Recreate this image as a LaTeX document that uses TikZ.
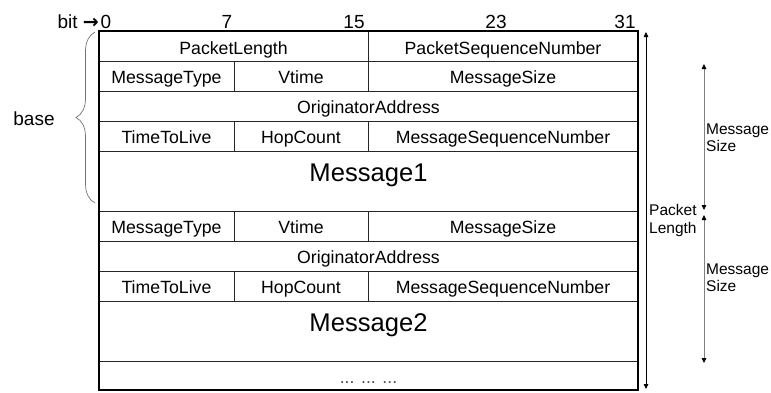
\documentclass[tikz,border=0pt]{standalone}
\usepackage{fontspec}
\setmainfont{Liberation Sans}
\newfontfamily\arrowfont{DejaVu Sans}
\usetikzlibrary{arrows.meta,decorations.pathreplacing}
\begin{document}
\begin{tikzpicture}[x=1pt,y=-1pt,
  cell/.style={anchor=base, inner sep=0pt, font=\fontsize{17.7}{20}\selectfont},
  big/.style={anchor=base, inner sep=0pt, font=\fontsize{25.6}{30}\selectfont},
  bitlbl/.style={anchor=base, inner sep=0pt, font=\fontsize{19}{22}\selectfont},
  side/.style={anchor=base west, inner sep=0pt, font=\fontsize{15.5}{18}\selectfont},
  gridline/.style={draw=black!85, line width=0.8pt},
  frame/.style={draw=black, line width=2pt},
  tip/.tip={Triangle[width=4.5pt,length=5pt,color=black]},
  dimarrow/.style={{tip}-{tip}, line width=0.8pt}]
\useasboundingbox (0,0) rectangle (771,392);

% horizontal grid lines
\foreach \yy in {61,91,121,151,211,241,271,301,361}
  \draw[gridline] (99,\yy) -- (638,\yy);
% vertical grid lines
\draw[gridline] (368,31) -- (368,61);
\draw[gridline] (234,61) -- (234,91);  \draw[gridline] (368,61) -- (368,91);
\draw[gridline] (234,121) -- (234,151); \draw[gridline] (368,121) -- (368,151);
\draw[gridline] (234,211) -- (234,241); \draw[gridline] (368,211) -- (368,241);
\draw[gridline] (234,271) -- (234,301); \draw[gridline] (368,271) -- (368,301);
% frame
\draw[frame] (99,31) rectangle (638,390);

% bit labels
\node[bitlbl, anchor=base east] (bit) at (99,28.3) {bit {\arrowfont\bfseries →}};
\node[bitlbl] (b0) at (106,28.3) {0};
\node[bitlbl] (b7) at (227,28.3) {7};
\node[bitlbl] (b15) at (354,28.3) {15};
\node[bitlbl] (b23) at (496,28.3) {23};
\node[bitlbl] (b31) at (625,28.3) {31};

% header
\node[cell] (pl) at (233.5,54) {PacketLength};
\node[cell] (psn) at (503,54) {PacketSequenceNumber};
% message 1
\node[cell] (mt1) at (166.5,83.7) {MessageType};
\node[cell] (vt1) at (301,83.7) {Vtime};
\node[cell] (ms1) at (503,83.7) {MessageSize};
\node[cell] (oa1) at (368.5,113.7) {OriginatorAddress};
\node[cell] (ttl1) at (166.5,143.7) {TimeToLive};
\node[cell] (hc1) at (301,143.7) {HopCount};
\node[cell] (msn1) at (503,143.7) {MessageSequenceNumber};
\node[big] (m1) at (368.5,181.7) {Message1};
% message 2
\node[cell] (mt2) at (166.5,233.7) {MessageType};
\node[cell] (vt2) at (301,233.7) {Vtime};
\node[cell] (ms2) at (503,233.7) {MessageSize};
\node[cell] (oa2) at (368.5,263.7) {OriginatorAddress};
\node[cell] (ttl2) at (166.5,293.7) {TimeToLive};
\node[cell] (hc2) at (301,293.7) {HopCount};
\node[cell] (msn2) at (503,293.7) {MessageSequenceNumber};
\node[big] (m2) at (368.5,331.7) {Message2};
\node[cell, text=black!70] (dots) at (368.5,383) {... ... ...};

% base brace
\draw[draw=black!55, line width=0.7pt, decorate,
      decoration={brace, amplitude=19pt, aspect=0.5}] (95,203) -- (95,32);
\node[anchor=base, inner sep=0pt, font=\fontsize{19}{22}\selectfont] (base) at (34,125) {base};

% packet length arrow
\coordinate (plt) at (646,32);
\coordinate (plb) at (646,389);
\draw[dimarrow, black] (plt) -- (plb);
\node[side] (plA) at (649,215) {Packet};
\node[side] (plB) at (649,233) {Length};

% message size arrows
\coordinate (s1t) at (704,64);
\coordinate (s1b) at (704,210);
\draw[dimarrow, draw=black!50] (s1t) -- (s1b);
\node[side] (s1A) at (706,134) {Message};
\node[side] (s1B) at (706,151) {Size};
\coordinate (s2t) at (704,215);
\coordinate (s2b) at (704,363);
\draw[dimarrow, draw=black!50] (s2t) -- (s2b);
\node[side] (s2A) at (706,274) {Message};
\node[side] (s2B) at (706,291) {Size};
\end{tikzpicture}
\end{document}
